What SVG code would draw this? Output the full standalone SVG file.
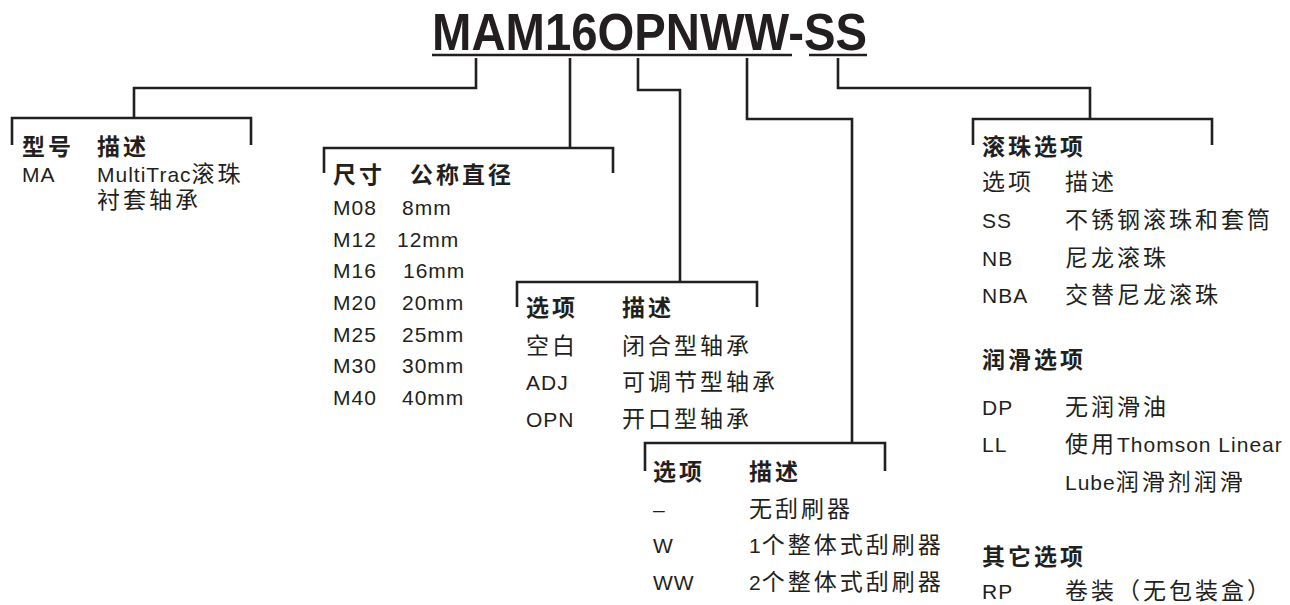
<svg xmlns="http://www.w3.org/2000/svg" width="1290" height="605" viewBox="0 0 1290 605">
<style>
text{font-family:"Liberation Sans","Noto Sans CJK SC",sans-serif;font-size:21px;fill:#231f20;letter-spacing:1px}
.c{font-family:"Noto Sans CJK SC",sans-serif;font-size:23px;letter-spacing:3px}
.b{font-weight:700}
.ln{fill:none;stroke:#231f20;stroke-width:2.6;stroke-linejoin:miter;stroke-linecap:butt}
.title{font-family:"Liberation Sans",sans-serif;font-size:52px;font-weight:700;letter-spacing:0}
</style>
<rect width="1290" height="605" fill="#ffffff"/>
<g id="title">
<text class="title" x="432" y="50" textLength="435" lengthAdjust="spacingAndGlyphs">MAM16OPNWW-SS</text>
<line class="ln" x1="432" y1="55" x2="792" y2="55"/>
<line class="ln" x1="809" y1="55" x2="867" y2="55"/>
</g>
<g id="connectors">
<path class="ln" d="M476,58 V88 H134 V118"/>
<path class="ln" d="M570,58 V148"/>
<path class="ln" d="M638,58 V90 H680 V282"/>
<path class="ln" d="M747,58 V119 H852 V443"/>
<path class="ln" d="M838,58 V88 H1090 V119"/>
</g>
<g id="model">
<path class="ln" d="M12,145 V118 H251 V145"/>
<text x="22" y="155" class="c b">型号</text>
<text x="97" y="155" class="c b">描述</text>
<text x="22" y="182">MA</text>
<text x="97" y="182">MultiTrac<tspan class="c">滚珠</tspan></text>
<text x="97" y="208" class="c">衬套轴承</text>
</g>
<g id="size">
<path class="ln" d="M324,173 V148 H613 V173"/>
<text x="333" y="183" class="c b">尺寸</text>
<text x="410" y="183" class="c b">公称直径</text>
<text x="333" y="215">M08</text><text x="402" y="215">8mm</text>
<text x="333" y="246.7">M12</text><text x="397" y="246.7">12mm</text>
<text x="333" y="278.3">M16</text><text x="403" y="278.3">16mm</text>
<text x="333" y="310">M20</text><text x="402" y="310">20mm</text>
<text x="333" y="341.7">M25</text><text x="402" y="341.7">25mm</text>
<text x="333" y="373.3">M30</text><text x="402" y="373.3">30mm</text>
<text x="333" y="405">M40</text><text x="402" y="405">40mm</text>
</g>
<g id="housing">
<path class="ln" d="M517,307 V282 H757 V307"/>
<text x="526" y="316" class="c b">选项</text>
<text x="622" y="316" class="c b">描述</text>
<text x="526" y="354" class="c">空白</text><text x="622" y="354" class="c">闭合型轴承</text>
<text x="526" y="390.3">ADJ</text><text x="622" y="390.3" class="c">可调节型轴承</text>
<text x="526" y="427">OPN</text><text x="622" y="427" class="c">开口型轴承</text>
</g>
<g id="wiper">
<path class="ln" d="M645,471 V443 H885 V471"/>
<text x="653" y="480" class="c b">选项</text>
<text x="749" y="480" class="c b">描述</text>
<text x="653" y="516.7">–</text><text x="749" y="516.7" class="c">无刮刷器</text>
<text x="653" y="553.3">W</text><text x="749" y="553.3">1<tspan class="c">个整体式刮刷器</tspan></text>
<text x="653" y="590">WW</text><text x="749" y="590">2<tspan class="c">个整体式刮刷器</tspan></text>
</g>
<g id="options">
<path class="ln" d="M973,145 V119 H1212 V145"/>
<text x="982" y="155" class="c b">滚珠选项</text>
<text x="982" y="190" class="c">选项</text><text x="1065" y="190" class="c">描述</text>
<text x="982" y="228">SS</text><text x="1065" y="228" class="c">不锈钢滚珠和套筒</text>
<text x="982" y="265.5">NB</text><text x="1065" y="265.5" class="c">尼龙滚珠</text>
<text x="982" y="303">NBA</text><text x="1065" y="303" class="c">交替尼龙滚珠</text>
<text x="982" y="368" class="c b">润滑选项</text>
<text x="982" y="415">DP</text><text x="1065" y="415" class="c">无润滑油</text>
<text x="982" y="452">LL</text><text x="1065" y="452"><tspan class="c">使用</tspan>Thomson Linear</text>
<text x="1065" y="490">Lube<tspan class="c">润滑剂润滑</tspan></text>
<text x="982" y="565" class="c b">其它选项</text>
<text x="982" y="599">RP</text><text x="1065" y="599" class="c">卷装（无包装盒）</text>
</g>
</svg>
